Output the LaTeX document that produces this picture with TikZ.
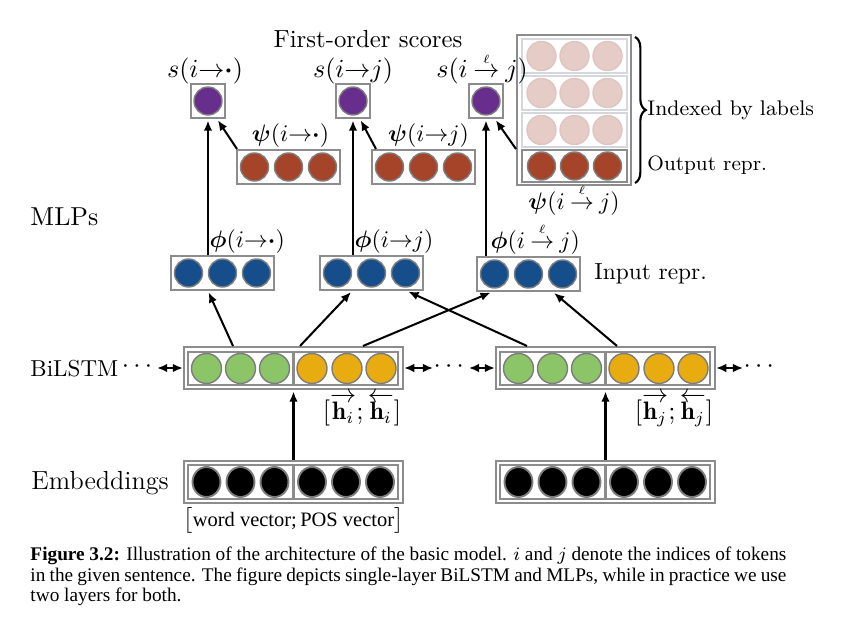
\documentclass[tikz,border=0pt]{standalone}
\usepackage{amsmath,bm}
\usepackage{fontspec}
\newfontfamily\tms{Liberation Serif}
\usetikzlibrary{arrows.meta,decorations.pathreplacing,calc,shapes.geometric}
\definecolor{cpurple}{RGB}{104,46,142}
\definecolor{cbrown}{RGB}{166,68,42}
\definecolor{cpink}{RGB}{230,204,198}
\definecolor{cpinkedge}{RGB}{222,198,192}
\definecolor{cblue}{RGB}{22,78,140}
\definecolor{cgreen}{RGB}{140,196,104}
\definecolor{corange}{RGB}{232,172,16}
\definecolor{boxgray}{RGB}{140,140,140}
\definecolor{circgray}{RGB}{125,125,125}
\definecolor{rowgray}{RGB}{212,216,222}
\def\PX{0.42pt}
\newcommand{\ellto}{\mkern4mu\ooalign{$\rightarrow$\cr\hfil\raisebox{6.2pt}{$\scriptscriptstyle\ell$}\hfil\cr}\mkern4mu}
\begin{document}
\begin{tikzpicture}[x=0.42pt,y=-0.42pt,
  box/.style={draw=boxgray, line width=0.85pt, inner sep=0pt},
  vec3/.style={box, minimum width=103*\PX, minimum height=34*\PX},
  sbox/.style={box, minimum width=34*\PX, minimum height=34*\PX},
  wide/.style={box, minimum width=219*\PX, minimum height=42*\PX},
  half/.style={box, minimum width=105*\PX, minimum height=33*\PX},
  rowbox/.style={draw=rowgray, line width=0.85pt, inner sep=0pt, minimum width=105*\PX, minimum height=34*\PX},
  neuron/.style={circle, draw=circgray, line width=0.6pt, minimum size=28*\PX, inner sep=0pt},
  bneuron/.style={neuron, minimum size=30*\PX},
  eneuron/.style={ellipse, draw=circgray, line width=0.8pt, fill=black, minimum width=28*\PX, minimum height=30*\PX, inner sep=0pt},
  pneuron/.style={circle, draw=cpinkedge, line width=0.6pt, fill=cpink, minimum size=29*\PX, inner sep=0pt},
  arr/.style={-{Latex[length=4.3pt,width=3.6pt]}, line width=0.85pt, shorten >=0.6pt},
  darr/.style={{Latex[length=4.3pt,width=3.6pt]}-{Latex[length=4.3pt,width=3.6pt]}, line width=0.85pt},
  mlab/.style={font=\fontsize{10.6}{12}\selectfont, inner sep=0.5pt},
  blab/.style={font=\fontsize{10}{12}\selectfont, inner sep=0.5pt},
  dots/.style={inner sep=0pt, font=\fontsize{10.6}{12}\selectfont},
  captxt/.style={anchor=base west, inner sep=0pt, font=\tms\fontsize{8.1}{9.5}\selectfont}
]
\useasboundingbox (0,0) rectangle (849,629);

% ---------- score boxes ----------
\node[sbox] (s1) at (208,101) {};
\node[sbox] (s2) at (353,101) {};
\node[sbox] (s3) at (486,101) {};
\foreach \n in {s1,s2,s3} \node[neuron, fill=cpurple] (\n c) at (\n) {};

% ---------- psi boxes ----------
\node[vec3] (psi1) at (288.5,167) {};
\node[vec3] (psi2) at (423.5,167) {};
\foreach \n in {psi1,psi2}
  \foreach \k/\dx in {1/-34,2/0,3/34}
    \node[neuron, fill=cbrown] (\n c\k) at ($(\n)+(\dx,0)$) {};

% ---------- labelled output block ----------
\node[box, minimum width=114*\PX, minimum height=150*\PX] (big) at (574,110) {};
\node[rowbox] (r1) at (574.5,56) {};
\node[rowbox] (r2) at (574.5,93) {};
\node[rowbox] (r3) at (574.5,130) {};
\node[box, minimum width=105*\PX, minimum height=32*\PX] (r4) at (574.5,166) {};
\foreach \n in {r1,r2,r3}
  \foreach \k/\dx in {1/-33,2/0,3/33}
    \node[pneuron] (\n c\k) at ($(\n)+(\dx,0)$) {};
\foreach \k/\dx in {1/-33,2/0,3/33}
  \node[neuron, fill=cbrown] (r4c\k) at ($(r4)+(\dx,0)$) {};

% ---------- MLP input boxes ----------
\node[vec3] (m1) at (222.5,273) {};
\node[vec3] (m2) at (371.5,273) {};
\node[vec3] (m3) at (528.5,274) {};
\foreach \n in {m1,m2,m3}
  \foreach \k/\dx in {1/-34,2/0,3/34}
    \node[neuron, fill=cblue] (\n c\k) at ($(\n)+(\dx,0)$) {};

% ---------- BiLSTM ----------
\node[wide] (b1) at (293.5,368) {};
\node[half] (b1l) at (240.5,368.5) {};
\node[half, minimum width=104*\PX] (b1r) at (346,368.5) {};
\node[wide] (b2) at (605.5,368) {};
\node[half] (b2l) at (552.5,368.5) {};
\node[half, minimum width=104*\PX] (b2r) at (658,368.5) {};
\foreach \n in {b1l,b2l}
  \foreach \k/\dx in {1/-34,2/0,3/34}
    \node[bneuron, fill=cgreen] (\n c\k) at ($(\n)+(\dx,0)$) {};
\foreach \n in {b1r,b2r}
  \foreach \k/\dx in {1/-34,2/1,3/35}
    \node[bneuron, fill=corange] (\n c\k) at ($(\n)+(\dx,0)$) {};

% ---------- Embeddings ----------
\node[wide] (e1) at (293.5,482) {};
\node[half, minimum height=34*\PX] (e1l) at (240.5,482) {};
\node[half, minimum height=34*\PX, minimum width=104*\PX] (e1r) at (346,482) {};
\node[wide] (e2) at (605.5,482) {};
\node[half, minimum height=34*\PX] (e2l) at (552.5,482) {};
\node[half, minimum height=34*\PX, minimum width=104*\PX] (e2r) at (658,482) {};
\foreach \n in {e1l,e1r,e2l,e2r}
  \foreach \k/\dx in {1/-34,2/0,3/34}
    \node[eneuron] (\n c\k) at ($(\n)+(\dx,0)$) {};

% ---------- connectors ----------
\draw[arr] (s1.south |- m1.north) -- (s1.south);
\draw[arr] (s2.south |- m2.north) -- (s2.south);
\draw[arr] (s3.south |- m3.north) -- (s3.south);

\draw[arr] ([xshift=1*\PX]psi1.north west) -- ([xshift=9*\PX]s1.south);
\draw[arr] ([xshift=5*\PX]psi2.north west) -- ([xshift=7*\PX]s2.south);
\draw[arr] (big.west |- r4.north) -- ([xshift=9*\PX]s3.south);

\draw[arr] ([xshift=-60.5*\PX]b1.north) -- ([xshift=-14.5*\PX]m1.south);
\draw[arr] ([xshift=6.5*\PX]b1.north) -- ([xshift=-19.5*\PX]m2.south);
\draw[arr] ([xshift=69.5*\PX]b1.north) -- ([xshift=-36.5*\PX]m3.south);
\draw[arr] ([xshift=-78.5*\PX]b2.north) -- ([xshift=35.5*\PX]m2.south);
\draw[arr] ([xshift=11.5*\PX]b2.north) -- ([xshift=24.5*\PX]m3.south);

\draw[arr] (e1.north) -- (b1.south);
\draw[arr] (e2.north) -- (b2.south);

% ---------- BiLSTM chain ----------
\node[anchor=west, inner sep=0pt, font=\fontsize{9.7}{12}\selectfont] (bil) at (30,369) {BiLSTM};
\node[dots, anchor=east] (d0) at (157,367) {$\cdots$};
\node[dots] (d1) at (451,367) {$\cdots$};
\node[dots] (d2) at (761,367) {$\cdots$};
\draw[darr] (d0.east |- b1.west) -- (b1.west);
\draw[darr] (b1.east) -- (d1.west |- b1.east);
\draw[darr] (d1.east |- b2.west) -- (b2.west);
\draw[darr] (b2.east) -- (d2.west |- b2.east);

% ---------- labels ----------
\node[font=\fontsize{10.4}{12}\selectfont] (title) at (368,39) {First-order scores};
\node[anchor=west, inner sep=0pt, font=\fontsize{10.9}{12}\selectfont] (mlps) at (30,217) {MLPs};
\node[anchor=west, inner sep=0pt, font=\fontsize{11}{12}\selectfont] (emb) at (31,483) {Embeddings};

\node[mlab, anchor=base] (ls1) at ($(s1.north)+(-3,-5)$) {$s(i{\rightarrow}\bm{\cdot})$};
\node[mlab, anchor=base] (ls2) at ($(s2.north)+(0,-5)$) {$s(i{\rightarrow}j)$};
\node[mlab, anchor=base] (ls3) at ($(s3.north)+(-4,-5)$) {$s(i\ellto j)$};

\node[blab, anchor=south] (lp1) at ([xshift=2*\PX]psi1.north) {$\bm{\psi}(i{\rightarrow}\bm{\cdot})$};
\node[blab, anchor=south] (lp2) at ([xshift=5*\PX]psi2.north) {$\bm{\psi}(i{\rightarrow}j)$};
\node[blab, anchor=north, inner sep=2pt] (lp3) at (big.south) {$\bm{\psi}(i\ellto j)$};

\node[blab, anchor=south west] (lf1) at (s1.south |- m1.north) {$\bm{\phi}(i{\rightarrow}\bm{\cdot})$};
\node[blab, anchor=south west] (lf2) at (s2.south |- m2.north) {$\bm{\phi}(i{\rightarrow}j)$};
\node[blab, anchor=south west] (lf3) at ([xshift=3*\PX]s3.south |- m3.north) {$\bm{\phi}(i\ellto j)$};

\node[anchor=west, inner sep=0pt, font=\fontsize{9.8}{12}\selectfont] (inrep) at ([xshift=13*\PX]m3.east) {Input repr.};
\node[anchor=west, inner sep=0pt, font=\fontsize{8.9}{12}\selectfont] (idx) at (647,110) {Indexed by labels};
\node[anchor=west, inner sep=0pt, font=\fontsize{8.7}{12}\selectfont] (outrep) at (647,165) {Output repr.};
\draw[decorate, decoration={brace, amplitude=4.5pt}, line width=0.9pt]
  ([xshift=3*\PX,yshift=-3*\PX]big.north east) -- ([xshift=3*\PX,yshift=3*\PX]big.south east);

\node[mlab, anchor=north east, inner sep=1pt] (hi) at (b1.south east) {$[\overrightarrow{\mathbf{h}_i};\overleftarrow{\mathbf{h}_i}]$};
\node[mlab, anchor=north east, inner sep=1pt] (hj) at (b2.south east) {$[\overrightarrow{\mathbf{h}_j};\overleftarrow{\mathbf{h}_j}]$};
\node[anchor=north, inner sep=1.5pt, font=\fontsize{8.6}{10}\selectfont] (wv) at (e1.south) {$\big[$\tms word vector;\,POS vector$\big]$};

% ---------- caption ----------
\node[captxt] (cap1) at (30,561)
  {\makebox[317.5pt][s]{\textbf{Figure 3.2:} Illustration of the architecture of the basic model. $i$ and $j$ denote the indices of tokens}};
\node[captxt] (cap2) at (30,582)
  {\makebox[317.5pt][s]{in the given sentence. The figure depicts single-layer BiLSTM and MLPs, while in practice we use}};
\node[captxt] (cap3) at (30,602) {two layers for both.};
\end{tikzpicture}
\end{document}
